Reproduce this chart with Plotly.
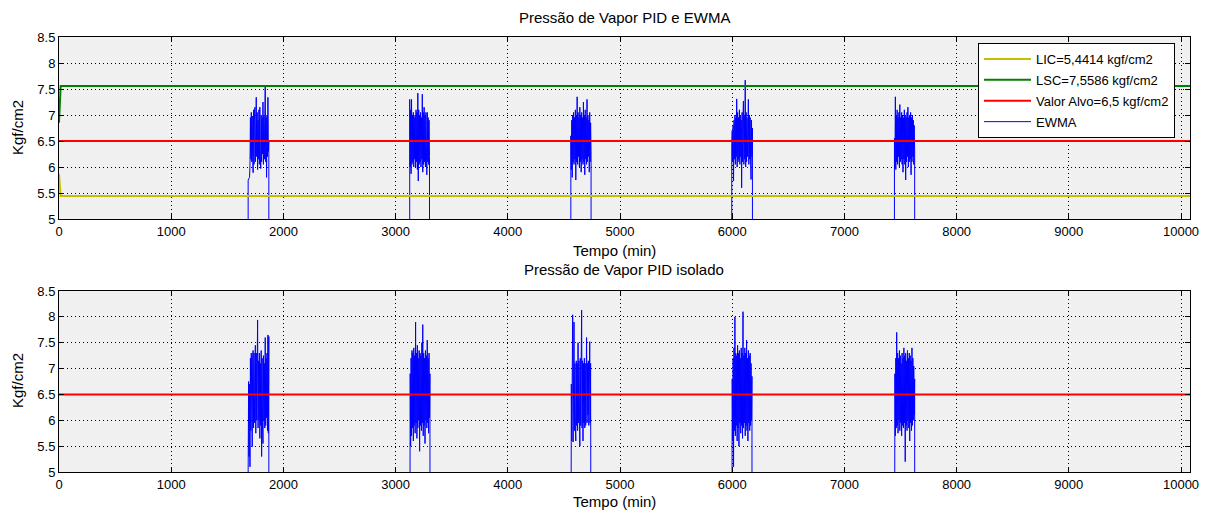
import plotly.graph_objects as go

# ---------------- data ----------------
T_END = 10080
LIC = 5.4414
LSC = 7.5586
ALVO = 6.5
LIC_START = 5.87
LSC_START = 6.85
LIMIT_T = [0, 15, T_END]

BURST_STARTS = [1686, 3126, 4562, 5996, 7446]
SAMPLE_STEP = 4
OFF_VALUE = 0.0

EWMA_BURSTS = [
    [5.75, 5.78, 5.76, 5.80, 6.02, 6.95, 6.15, 7.05, 6.10, 6.98, 6.20, 5.89, 7.10, 6.05, 7.00, 7.15,
     6.10, 6.95, 7.34, 6.20, 7.05, 5.95, 6.90, 6.15, 7.10, 6.05, 7.15, 6.20, 5.97, 7.00, 6.10, 6.95,
     6.25, 7.25, 6.05, 7.00, 6.15, 6.90, 7.57, 6.10, 6.95, 5.80, 7.00, 6.20, 7.34, 6.30, 6.50],
    [7.30, 6.00, 7.10, 5.87, 7.30, 6.05, 7.00, 6.10, 7.05, 6.00, 6.95, 6.15, 7.00, 6.00, 7.10, 6.10,
     7.05, 5.95, 7.42, 5.73, 7.10, 6.05, 7.00, 6.10, 7.05, 6.00, 6.95, 6.15, 7.40, 5.90, 7.05, 6.05,
     7.15, 6.10, 7.00, 6.00, 7.05, 6.15, 5.85, 7.05, 6.10, 6.95, 6.05, 6.90, 6.20],
    [6.60, 5.95, 6.90, 5.80, 7.00, 6.10, 7.05, 6.05, 6.95, 6.15, 7.10, 5.75, 7.00, 6.10, 7.35, 6.05,
     7.05, 6.20, 6.95, 6.00, 7.15, 6.10, 7.00, 5.90, 7.05, 6.15, 6.95, 6.05, 7.25, 6.10, 7.00, 5.85,
     7.10, 6.15, 6.95, 6.05, 7.30, 6.10, 7.00, 6.20, 6.90, 5.90, 7.05, 6.10, 6.85, 6.30],
    [6.45, 6.70, 6.10, 6.80, 5.73, 6.90, 6.15, 7.00, 6.05, 6.95, 6.20, 7.31, 6.00, 7.05, 6.10, 6.95,
     6.15, 7.10, 6.05, 7.00, 6.20, 6.90, 5.60, 7.05, 6.10, 6.95, 7.27, 6.05, 7.00, 6.15, 7.67, 6.00,
     7.05, 6.10, 6.95, 6.20, 7.10, 7.30, 6.05, 7.00, 6.15, 6.95, 6.10, 5.76, 6.90, 6.20, 6.75],
    [6.55, 6.00, 7.35, 5.95, 7.00, 6.10, 7.10, 6.05, 6.95, 6.20, 7.05, 6.00, 7.20, 6.10, 6.95, 6.15,
     7.05, 6.05, 7.00, 5.90, 6.95, 6.15, 7.10, 6.05, 7.00, 5.75, 6.95, 6.10, 7.05, 6.20, 7.15, 6.00,
     6.95, 6.10, 7.00, 6.15, 7.05, 5.85, 6.95, 6.10, 7.00, 6.20, 6.90, 6.05, 6.80, 6.30],
]

PID_BURSTS = [
    [5.05, 6.75, 5.30, 6.70, 5.10, 7.20, 5.80, 7.30, 5.90, 5.49, 7.25, 7.35, 5.85, 7.30, 5.95, 7.20,
     7.45, 5.75, 7.30, 6.00, 7.25, 7.94, 5.85, 7.15, 6.00, 7.30, 5.65, 7.10, 5.90, 7.35, 5.30, 7.20,
     5.95, 5.55, 7.25, 6.00, 7.10, 5.85, 7.60, 5.90, 7.20, 6.05, 7.30, 5.80, 7.65, 5.75, 7.62],
    [5.10, 6.90, 5.50, 7.20, 5.70, 7.35, 5.85, 7.30, 5.60, 7.40, 5.90, 7.25, 5.75, 7.90, 5.95, 7.30,
     5.65, 7.45, 5.85, 7.20, 6.00, 7.35, 5.40, 7.30, 5.90, 7.25, 5.80, 7.50, 5.95, 7.85, 5.70, 7.30,
     5.90, 7.20, 5.55, 7.35, 6.00, 7.25, 5.85, 7.55, 5.95, 7.20, 5.75, 7.30, 6.05, 6.90],
    [5.20, 6.70, 5.60, 6.65, 8.04, 5.58, 6.72, 7.90, 5.80, 7.10, 5.85, 5.60, 7.15, 5.90, 7.10, 5.80,
     7.50, 5.95, 7.15, 5.85, 5.50, 7.20, 5.90, 7.10, 8.13, 5.85, 7.15, 5.60, 7.10, 5.95, 7.20, 5.85,
     7.10, 5.90, 7.15, 7.60, 5.95, 7.10, 6.10, 7.15, 5.90, 7.05, 7.52, 5.95, 7.10, 6.40],
    [5.30, 6.80, 5.60, 7.20, 5.10, 7.40, 5.80, 8.00, 5.70, 7.30, 5.90, 7.25, 5.60, 7.45, 5.85, 7.30,
     5.50, 7.35, 5.95, 7.20, 5.75, 7.40, 5.90, 7.30, 5.65, 8.10, 5.85, 7.25, 5.95, 7.40, 5.70, 7.30,
     5.90, 7.55, 5.80, 7.20, 5.60, 7.35, 5.95, 7.25, 5.80, 7.30, 5.90, 7.10, 6.00, 6.85],
    [5.40, 6.90, 5.70, 7.20, 5.85, 7.70, 5.90, 7.30, 5.75, 7.20, 6.00, 7.35, 5.80, 7.25, 5.95, 7.10,
     5.70, 7.30, 5.90, 7.20, 5.85, 7.40, 5.95, 7.25, 5.20, 7.30, 5.90, 7.15, 5.80, 7.35, 6.00, 7.20,
     5.85, 7.30, 5.60, 7.25, 5.95, 7.15, 5.80, 7.40, 5.90, 7.20, 6.00, 7.05, 6.10, 6.80],
]

X_TICKS = list(range(0, 10001, 1000))
Y_TICKS = [5, 5.5, 6, 6.5, 7, 7.5, 8, 8.5]

TITLE_TOP = "Pressão de Vapor PID e EWMA"
TITLE_BOTTOM = "Pressão de Vapor PID isolado"
X_TITLE = "Tempo (min)"
Y_TITLE = "Kgf/cm2"
NAMES = ["LIC=5,4414 kgf/cm2", "LSC=7,5586 kgf/cm2", "Valor Alvo=6,5 kgf/cm2", "EWMA"]


def build_series(bursts):
    xs, ys = [0], [OFF_VALUE]
    for t0, vals in zip(BURST_STARTS, bursts):
        xs.append(t0 - 1)
        ys.append(OFF_VALUE)
        for i, v in enumerate(vals):
            xs.append(t0 + i * SAMPLE_STEP)
            ys.append(v)
        xs.append(t0 + (len(vals) - 1) * SAMPLE_STEP + 1)
        ys.append(OFF_VALUE)
    xs.append(T_END)
    ys.append(OFF_VALUE)
    return xs, ys


ewma_x, ewma_y = build_series(EWMA_BURSTS)
pid_x, pid_y = build_series(PID_BURSTS)

YELLOW = "#c6bf00"
GREEN = "#008000"
RED = "#ff0000"
BLUE = "#0000ff"
FONT = "Liberation Sans, Arial, sans-serif"
LABEL_SIZE = 15
TICK_SIZE = 13

fig = go.Figure()
# top subplot
fig.add_trace(go.Scatter(x=ewma_x, y=ewma_y, mode="lines", name=NAMES[3],
                         line=dict(color=BLUE, width=1), legendrank=4, legendgroup="d",
                         xaxis="x", yaxis="y"))
fig.add_trace(go.Scatter(x=LIMIT_T, y=[LIC_START, LIC, LIC], mode="lines", name=NAMES[0],
                         line=dict(color=YELLOW, width=2), legendrank=1, legendgroup="a",
                         xaxis="x", yaxis="y"))
fig.add_trace(go.Scatter(x=LIMIT_T, y=[LSC_START, LSC, LSC], mode="lines", name=NAMES[1],
                         line=dict(color=GREEN, width=2), legendrank=2, legendgroup="b",
                         xaxis="x", yaxis="y"))
fig.add_trace(go.Scatter(x=[0, T_END], y=[ALVO, ALVO], mode="lines", name=NAMES[2],
                         line=dict(color=RED, width=2), legendrank=3, legendgroup="c",
                         xaxis="x", yaxis="y"))
# bottom subplot
fig.add_trace(go.Scatter(x=pid_x, y=pid_y, mode="lines", showlegend=False,
                         line=dict(color=BLUE, width=1), xaxis="x2", yaxis="y2"))
fig.add_trace(go.Scatter(x=[0, T_END], y=[ALVO, ALVO], mode="lines", showlegend=False,
                         line=dict(color=RED, width=2), xaxis="x2", yaxis="y2"))

W, H = 1213, 512
L, R, T, B = 59, 1190, 37, 472
pw, ph = R - L, B - T


def py(ypx):
    return (B - ypx) / ph


def px(xpx):
    return (xpx - L) / pw


axis_common = dict(
    showline=True, linecolor="black", linewidth=1, mirror="ticks",
    ticks="inside", ticklen=5, tickcolor="black", tickwidth=1,
    showgrid=True, gridcolor="black", gridwidth=1, griddash="1px,3px",
    zeroline=False, tickfont=dict(family=FONT, size=TICK_SIZE, color="black"),
)

xa = dict(axis_common, range=[0, T_END], tickvals=X_TICKS, ticktext=[str(v) for v in X_TICKS])
ya = dict(axis_common, range=[5, 8.5], tickvals=Y_TICKS, ticktext=[f"{v:g}" for v in Y_TICKS])


def label(text, xpx, ypx, angle=0):
    return dict(text=text, x=px(xpx), y=py(ypx), xref="paper", yref="paper",
                xanchor="center", yanchor="middle", showarrow=False, textangle=angle,
                font=dict(family=FONT, size=LABEL_SIZE, color="black"))


fig.update_layout(
    width=W, height=H,
    margin=dict(l=L, r=W - R, t=T, b=H - B),
    paper_bgcolor="white", plot_bgcolor="#f0f0f0",
    font=dict(family=FONT, size=12, color="black"),
    xaxis=dict(xa, domain=[0, 1], anchor="y"),
    yaxis=dict(ya, domain=[py(219), 1], anchor="x"),
    xaxis2=dict(xa, domain=[0, 1], anchor="y2"),
    yaxis2=dict(ya, domain=[0, py(291)], anchor="x2"),
    showlegend=True,
    legend=dict(x=px(978), y=py(43), xanchor="left", yanchor="top",
                bgcolor="white", bordercolor="black", borderwidth=1,
                font=dict(family=FONT, size=13, color="black"),
                itemwidth=47, traceorder="grouped", tracegroupgap=1),
    annotations=[
        label(TITLE_TOP, 624, 18),
        label(TITLE_BOTTOM, 624, 269),
        label(X_TITLE, 614, 250),
        label(X_TITLE, 614, 502),
        label(Y_TITLE, 17, 128, -90),
        label(Y_TITLE, 17, 381, -90),
    ],
)

fig.write_html("out.html")
